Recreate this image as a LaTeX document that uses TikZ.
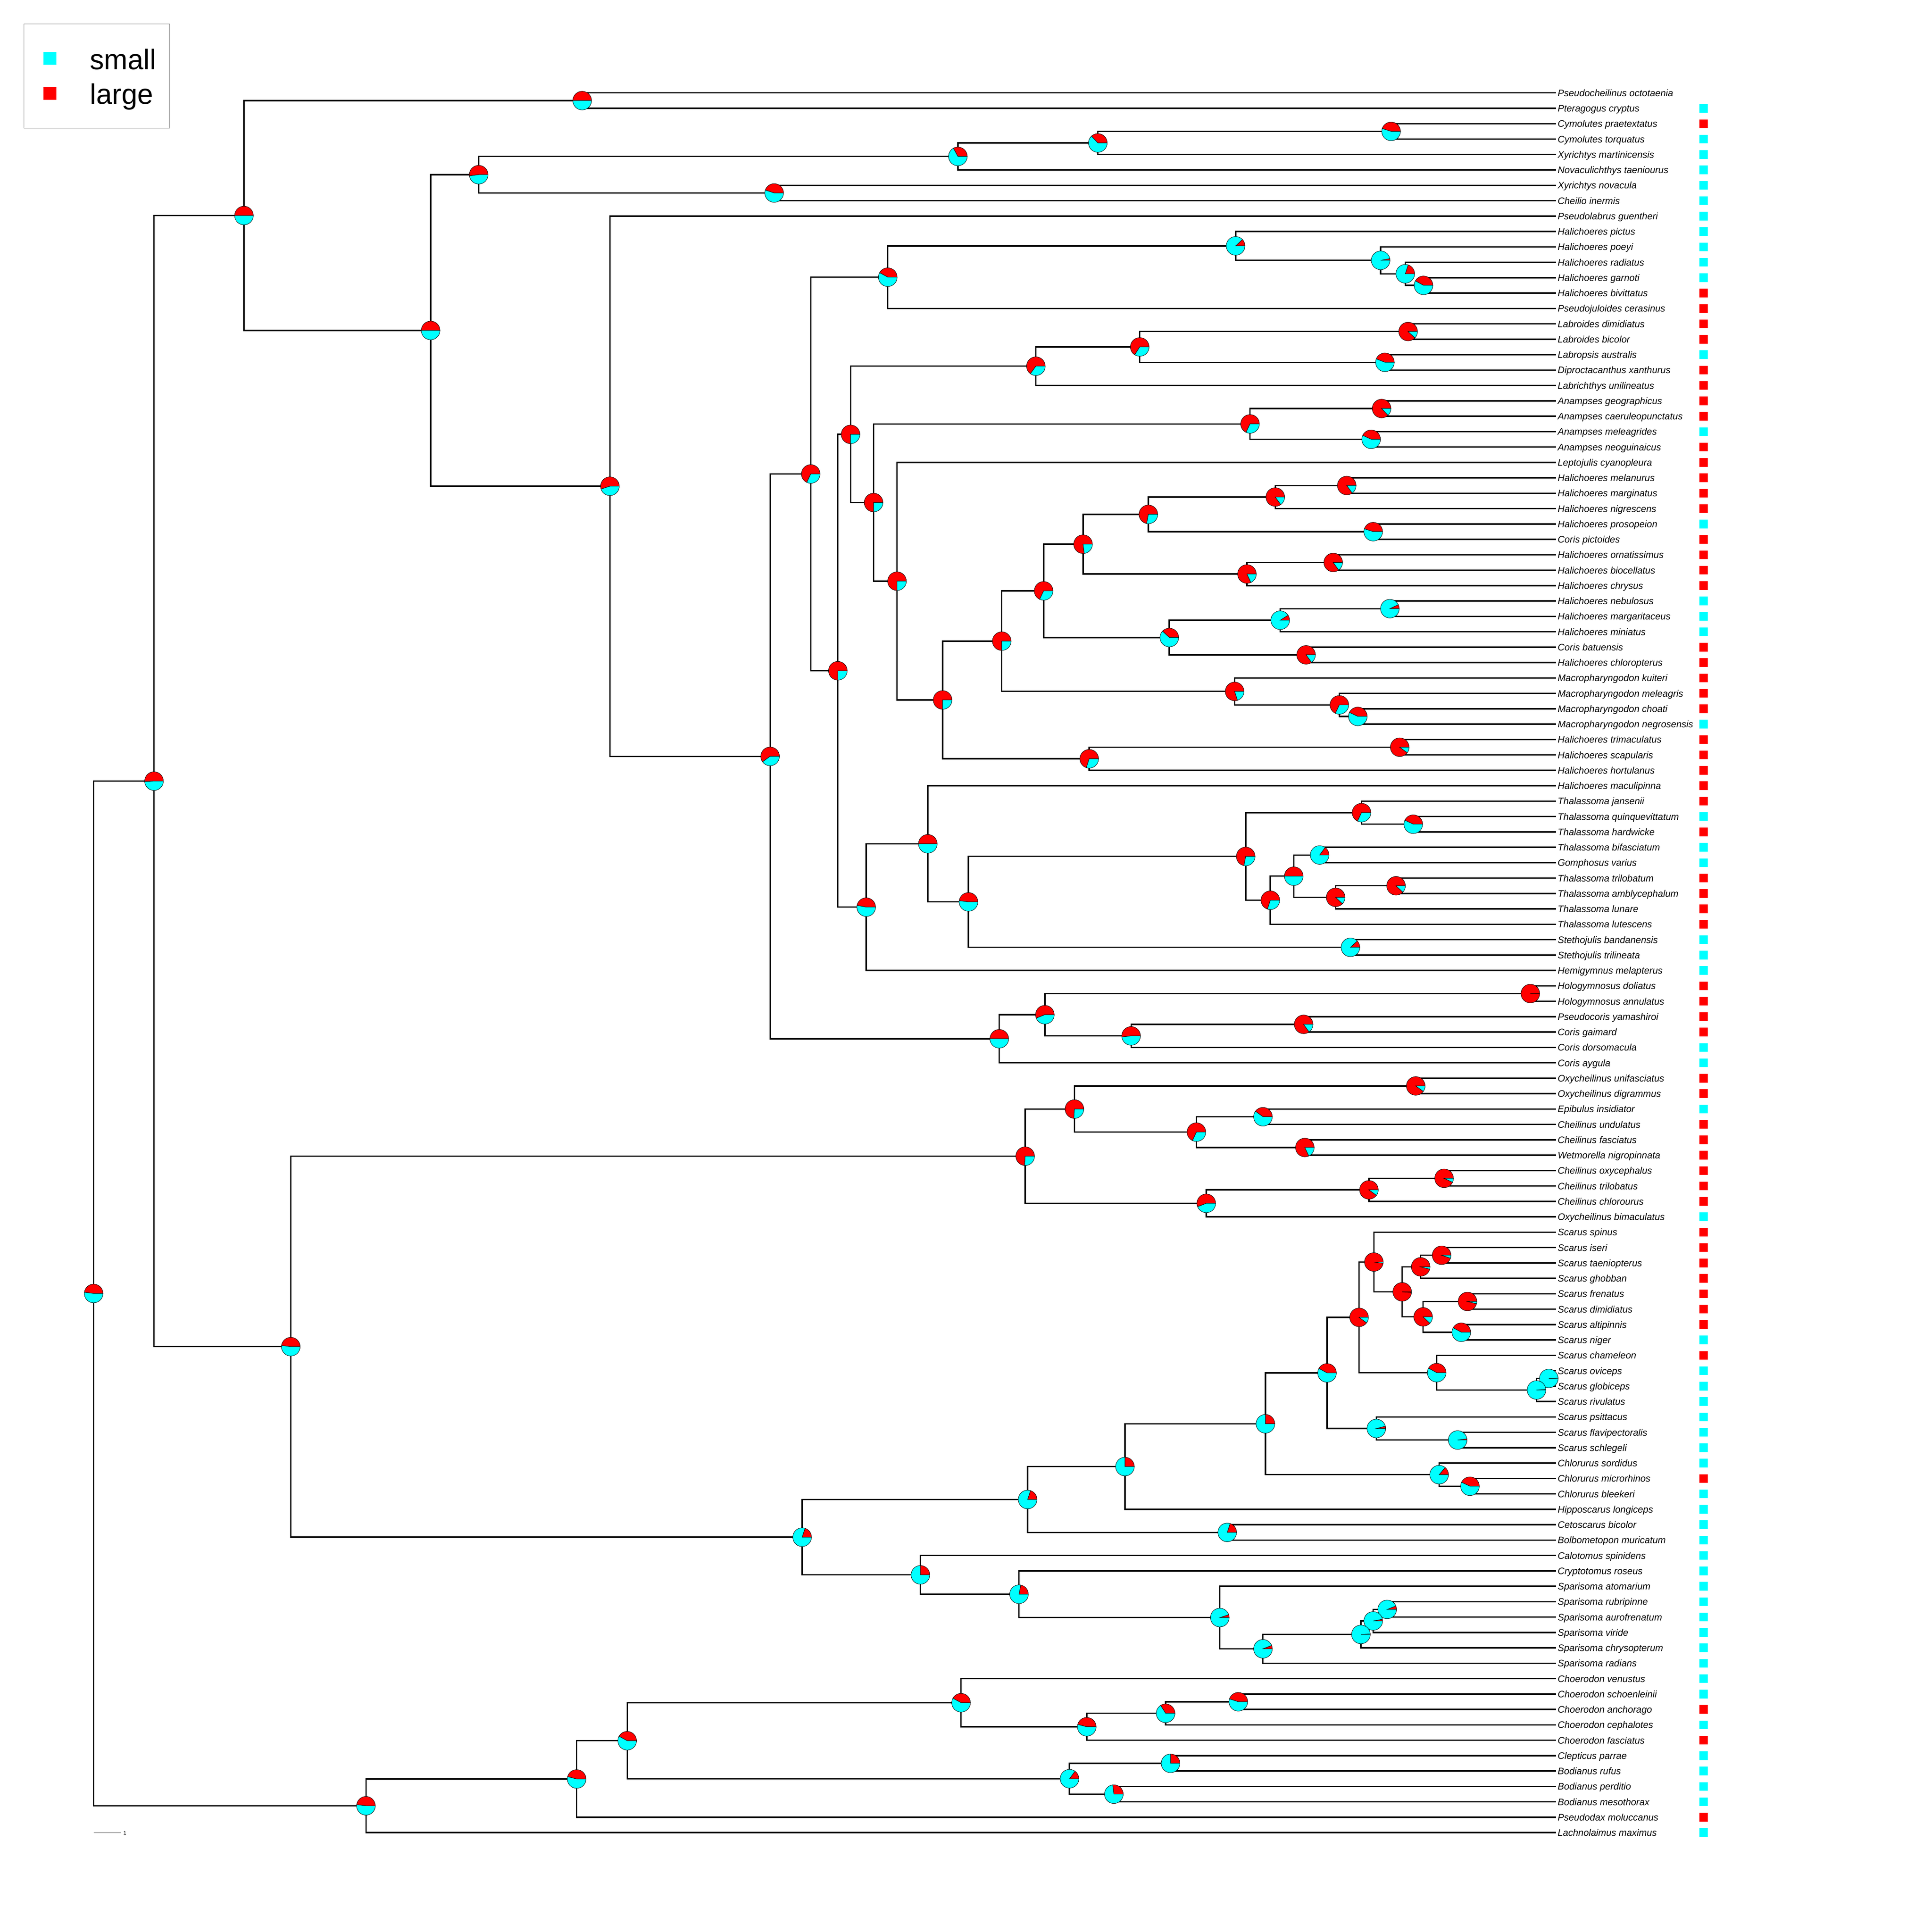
\documentclass[tikz,border=0pt]{standalone}
\usepackage{fontspec}
\setmainfont{Liberation Sans}
\usetikzlibrary{calc}
\pgfdeclarelayer{bg}
\pgfsetlayers{bg,main}
\definecolor{sm}{RGB}{0,255,255}
\definecolor{lg}{RGB}{255,0,0}
\definecolor{framegray}{RGB}{128,128,128}
% y of tip row
\newcommand{\rowy}[1]{-75.4-12.495*(#1-1)}
% pie at a node: name, share of large
\newcommand{\nodepie}[2]{%
  \filldraw[pieline,fill=lg] (#1) -- ++(0:7.6) arc[start angle=0,end angle={360*#2},radius=7.6] -- cycle;
  \filldraw[pieline,fill=sm] (#1) -- ++({360*#2}:7.6) arc[start angle={360*#2},end angle=360,radius=7.6] -- cycle;}
% internal node: name, x, first child, second child, share of large
\newcommand{\clade}[5]{%
  \path let \p1=(#3), \p2=(#4) in coordinate (#1) at (#2pt,{(\y1+\y2)/2});
  \begin{pgfonlayer}{bg}
    \draw[branch] (#1) |- (#3);
    \draw[branch] (#1) |- (#4);
  \end{pgfonlayer}
  \nodepie{#1}{#5}}
\begin{document}
\begin{tikzpicture}[x=1pt,y=1pt,
    branch/.style={line width=1.1pt},
    pieline/.style={draw=black,line width=0.3pt},
    tiplabel/.style={anchor=base west,inner sep=0pt,font=\fontsize{7.7}{9}\selectfont\itshape},
    tipbox/.style={inner sep=0pt,minimum size=7pt,draw=none},
    legendframe/.style={draw=framegray,line width=0.5pt},
    legendkey/.style={inner sep=0pt,minimum size=10.5pt,draw=none},
    legendtext/.style={anchor=base west,inner sep=0pt,font=\fontsize{23}{28}\selectfont},
    scalebar/.style={draw=black!70,line width=0.3pt},
    scalelabel/.style={anchor=west,inner sep=0pt,xshift=2pt,font=\fontsize{4.2}{5}\selectfont}]
\useasboundingbox (0,0) rectangle (1568,-1568);
\begin{pgfonlayer}{bg}
  \fill[white] (0,0) rectangle (1568,-1568);
\end{pgfonlayer}

%tips and labels
\foreach \sp [count=\i] in {Pseudocheilinus octotaenia, Pteragogus cryptus, Cymolutes praetextatus,
  Cymolutes torquatus, Xyrichtys martinicensis, Novaculichthys taeniourus, Xyrichtys novacula,
  Cheilio inermis, Pseudolabrus guentheri, Halichoeres pictus, Halichoeres poeyi, Halichoeres radiatus,
  Halichoeres garnoti, Halichoeres bivittatus, Pseudojuloides cerasinus, Labroides dimidiatus,
  Labroides bicolor, Labropsis australis, Diproctacanthus xanthurus, Labrichthys unilineatus,
  Anampses geographicus, Anampses caeruleopunctatus, Anampses meleagrides, Anampses neoguinaicus,
  Leptojulis cyanopleura, Halichoeres melanurus, Halichoeres marginatus, Halichoeres nigrescens,
  Halichoeres prosopeion, Coris pictoides, Halichoeres ornatissimus, Halichoeres biocellatus,
  Halichoeres chrysus, Halichoeres nebulosus, Halichoeres margaritaceus, Halichoeres miniatus,
  Coris batuensis, Halichoeres chloropterus, Macropharyngodon kuiteri, Macropharyngodon meleagris,
  Macropharyngodon choati, Macropharyngodon negrosensis, Halichoeres trimaculatus, Halichoeres scapularis,
  Halichoeres hortulanus, Halichoeres maculipinna, Thalassoma jansenii, Thalassoma quinquevittatum,
  Thalassoma hardwicke, Thalassoma bifasciatum, Gomphosus varius, Thalassoma trilobatum,
  Thalassoma amblycephalum, Thalassoma lunare, Thalassoma lutescens, Stethojulis bandanensis,
  Stethojulis trilineata, Hemigymnus melapterus, Hologymnosus doliatus, Hologymnosus annulatus,
  Pseudocoris yamashiroi, Coris gaimard, Coris dorsomacula, Coris aygula, Oxycheilinus unifasciatus,
  Oxycheilinus digrammus, Epibulus insidiator, Cheilinus undulatus, Cheilinus fasciatus,
  Wetmorella nigropinnata, Cheilinus oxycephalus, Cheilinus trilobatus, Cheilinus chlorourus,
  Oxycheilinus bimaculatus, Scarus spinus, Scarus iseri, Scarus taeniopterus, Scarus ghobban,
  Scarus frenatus, Scarus dimidiatus, Scarus altipinnis, Scarus niger, Scarus chameleon,
  Scarus oviceps, Scarus globiceps, Scarus rivulatus, Scarus psittacus, Scarus flavipectoralis,
  Scarus schlegeli, Chlorurus sordidus, Chlorurus microrhinos, Chlorurus bleekeri,
  Hipposcarus longiceps, Cetoscarus bicolor, Bolbometopon muricatum, Calotomus spinidens,
  Cryptotomus roseus, Sparisoma atomarium, Sparisoma rubripinne, Sparisoma aurofrenatum,
  Sparisoma viride, Sparisoma chrysopterum, Sparisoma radians, Choerodon venustus,
  Choerodon schoenleinii, Choerodon anchorago, Choerodon cephalotes, Choerodon fasciatus,
  Clepticus parrae, Bodianus rufus, Bodianus perditio, Bodianus mesothorax,
  Pseudodax moluccanus, Lachnolaimus maximus}{
  \coordinate (t\i) at (1263,{\rowy{\i}});
  \node[tiplabel] (l\i) at ([shift={(1,-2.8)}]t\i) {\sp};
}

%tip states
\foreach \c [count=\i from 2] in {sm,lg,sm,sm,sm,sm,sm,sm,sm,sm,sm,sm,
  lg,lg,lg,lg,sm,lg,lg,lg,lg,sm,lg,lg,lg,lg,lg,sm,lg,lg,lg,lg,sm,sm,sm,
  lg,lg,lg,lg,lg,sm,lg,lg,lg,lg,lg,sm,lg,sm,sm,lg,lg,lg,lg,sm,sm,sm,
  lg,lg,lg,lg,sm,sm,lg,lg,sm,lg,lg,lg,lg,lg,lg,sm,lg,lg,lg,lg,lg,lg,lg,
  sm,lg,sm,sm,sm,sm,sm,sm,sm,lg,sm,sm,sm,sm,sm,sm,sm,sm,sm,sm,sm,sm,sm,sm,
  lg,sm,lg,sm,sm,sm,sm,lg,sm}{
  \node[tipbox,fill=\c] (b\i) at ([xshift=119.6]t\i) {};
}

%upper clades
\clade{a1}{472.5}{t1}{t2}{0.5}
\clade{a2}{1129}{t3}{t4}{0.45}
\clade{a3}{891}{a2}{t5}{0.37}
\clade{a4}{777.4}{a3}{t6}{0.33}
\clade{a5}{628.3}{t7}{t8}{0.45}
\clade{a6}{388.5}{a4}{a5}{0.52}
\clade{b1}{1155.3}{t13}{t14}{0.42}
\clade{b2}{1140.5}{t12}{b1}{0.2}
\clade{b3}{1120.5}{t11}{b2}{0.03}
\clade{b4}{1002.8}{t10}{b3}{0.12}
\clade{b5}{720.5}{b4}{t15}{0.42}
\clade{c1}{1142.8}{t16}{t17}{0.88}
\clade{c2}{1124}{t18}{t19}{0.44}
\clade{c3}{925}{c1}{c2}{0.66}
\clade{c4}{840.7}{c3}{t20}{0.65}
\clade{c5}{1121.3}{t21}{t22}{0.87}
\clade{c6}{1112.8}{t23}{t24}{0.43}
\clade{c7}{1014.5}{c5}{c6}{0.68}
\clade{d1}{1093}{t26}{t27}{0.85}
\clade{d2}{1035}{d1}{t28}{0.85}
\clade{d3}{1114.5}{t29}{t30}{0.45}
\clade{d4}{932}{d2}{d3}{0.72}
\clade{d5}{1082}{t31}{t32}{0.85}
\clade{d6}{1012}{d5}{t33}{0.82}
\clade{d7}{879}{d4}{d6}{0.77}
\clade{d8}{1128}{t34}{t35}{0.07}
\clade{d9}{1039}{d8}{t36}{0.09}
\clade{d10}{1060}{t37}{t38}{0.85}
\clade{d11}{949}{d9}{d10}{0.38}
\clade{d12}{847}{d7}{d11}{0.68}
\clade{d13}{1102}{t41}{t42}{0.43}
\clade{d14}{1087}{t40}{d13}{0.68}
\clade{d15}{1002}{t39}{d14}{0.8}
\clade{d16}{813}{d12}{d15}{0.75}
\clade{d17}{1136}{t43}{t44}{0.9}
\clade{d18}{884}{d17}{t45}{0.7}
\clade{d19}{765}{d16}{d18}{0.75}
\clade{d20}{728}{t25}{d19}{0.75}
\clade{d21}{709}{c7}{d20}{0.75}
\clade{d22}{690.3}{c4}{d21}{0.75}
\clade{e1}{1147}{t48}{t49}{0.43}
\clade{e2}{1105}{t47}{e1}{0.68}
\clade{e3}{1071}{t50}{t51}{0.15}
\clade{e4}{1133}{t52}{t53}{0.88}
\clade{e5}{1084}{e4}{t54}{0.88}
\clade{e6}{1050}{e3}{e5}{0.5}
\clade{e7}{1031}{e6}{t55}{0.7}
\clade{e8}{1011}{e2}{e7}{0.72}
\clade{e9}{1096}{t56}{t57}{0.12}
\clade{e10}{786}{e8}{e9}{0.48}
\clade{e11}{753}{t46}{e10}{0.5}
\clade{e12}{703}{e11}{t58}{0.47}
\clade{e13}{680}{d22}{e12}{0.75}
\clade{e14}{658}{b5}{e13}{0.68}
\clade{f1}{1242}{t59}{t60}{0.999}
\clade{f2}{1058}{t61}{t62}{0.85}
\clade{f3}{918}{f2}{t63}{0.52}
\clade{f4}{848}{f1}{f3}{0.56}
\clade{f5}{811}{f4}{t64}{0.5}
\clade{f6}{625}{e14}{f5}{0.6}
\clade{f7}{495}{t9}{f6}{0.55}
\clade{f8}{349.5}{a6}{f7}{0.5}
\clade{f9}{198}{a1}{f8}{0.5}

%lower clades
\clade{g1}{1149}{t65}{t66}{0.9}
\clade{g2}{1025}{t67}{t68}{0.4}
\clade{g3}{1059}{t69}{t70}{0.82}
\clade{g4}{971}{g2}{g3}{0.68}
\clade{g5}{872}{g1}{g4}{0.74}
\clade{g6}{1172}{t71}{t72}{0.93}
\clade{g7}{1111}{g6}{t73}{0.9}
\clade{g8}{979}{g7}{t74}{0.56}
\clade{g9}{832}{g5}{g8}{0.74}
\clade{h1}{1170}{t76}{t77}{0.95}
\clade{h2}{1153}{h1}{t78}{0.96}
\clade{h3}{1191}{t79}{t80}{0.96}
\clade{h4}{1186}{t81}{t82}{0.42}
\clade{h5}{1155}{h3}{h4}{0.88}
\clade{h6}{1138}{h2}{h5}{0.99}
\clade{h7}{1115}{t75}{h6}{0.98}
\clade{h8}{1257}{t84}{t85}{0.01}
\clade{h9}{1247}{h8}{t86}{0.01}
\clade{h10}{1166}{t83}{h9}{0.42}
\clade{h11}{1103}{h7}{h10}{0.9}
\clade{h12}{1183}{t88}{t89}{0.02}
\clade{h13}{1117}{t87}{h12}{0.04}
\clade{h14}{1077}{h11}{h13}{0.42}
\clade{h15}{1193}{t91}{t92}{0.43}
\clade{h16}{1168}{t90}{h15}{0.14}
\clade{h17}{1027}{h14}{h16}{0.25}
\clade{h18}{913}{h17}{t93}{0.25}
\clade{h19}{996}{t94}{t95}{0.2}
\clade{h20}{834}{h18}{h19}{0.2}
\clade{i1}{1125.8}{t99}{t100}{0.06}
\clade{i2}{1114.5}{i1}{t101}{0.03}
\clade{i3}{1104.5}{i2}{t102}{0.01}
\clade{i4}{1025}{i3}{t103}{0.06}
\clade{i5}{990}{t98}{i4}{0.05}
\clade{i6}{827}{t97}{i5}{0.22}
\clade{i7}{747}{t96}{i6}{0.25}
\clade{i8}{651}{h20}{i7}{0.2}
\clade{i9}{236}{g9}{i8}{0.48}
\clade{i10}{125}{f9}{i9}{0.51}
\clade{j1}{1005}{t105}{t106}{0.45}
\clade{j2}{946}{j1}{t107}{0.34}
\clade{j3}{882}{j2}{t108}{0.46}
\clade{j4}{780}{t104}{j3}{0.42}
\clade{j5}{950}{t109}{t110}{0.25}
\clade{j6}{904}{t111}{t112}{0.27}
\clade{j7}{868}{j5}{j6}{0.15}
\clade{j8}{509}{j4}{j7}{0.42}
\clade{j9}{468}{j8}{t113}{0.46}
\clade{j10}{297}{j9}{t114}{0.48}
\clade{root}{76}{i10}{j10}{0.48}

%legend
\draw[legendframe] (19.4,-19.4) rectangle (137.7,-104);
\node[legendkey,fill=sm] (ks) at (40.5,-47.5) {};
\node[legendkey,fill=lg] (kl) at (40.5,-75.7) {};
\node[legendtext] (ls) at (72.9,-56.5) {small};
\node[legendtext] (ll) at (72.9,-84.4) {large};

%scale bar
\coordinate (s0) at (76,-1487.5);
\coordinate (s1) at (98,-1487.5);
\draw[scalebar] (s0) -- (s1) node[scalelabel] (sl) {1};
\end{tikzpicture}
\end{document}
